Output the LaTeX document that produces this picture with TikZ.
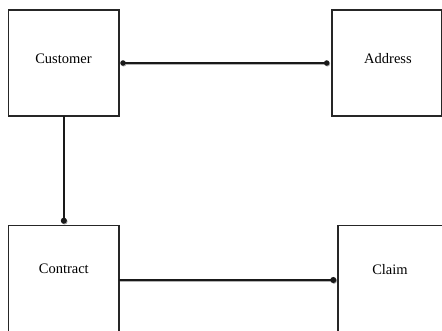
\documentclass[tikz,border=0pt]{standalone}
\usepackage{fontspec}
\setmainfont{Liberation Serif}
\usetikzlibrary{arrows.meta}
\begin{document}
\begin{tikzpicture}[x=1pt,y=-1pt,
  entity/.style={draw=black!85, line width=1.1pt, rectangle, outer sep=0pt, inner sep=0pt},
  caption/.style={font=\fontsize{14.5}{17}\selectfont, inner sep=0pt},
  link/.style={line width=1.4pt, draw=black!90,
    preaction={draw=black!30, line width=1.4pt,
      transform canvas={xshift=0.7pt,yshift=-0.8pt}}},
  bothdots/.style={arrows={Circle[length=5.4pt]-Circle[length=5.4pt]}},
  bigdot/.style={arrows={-Circle[length=6pt]}}]
\useasboundingbox (0,0) rectangle (442,330);
\clip (0,0) rectangle (442,330);

% entities
\node[entity, minimum width=110.3pt, minimum height=106pt] (customer) at (63.85,63) {};
\node[entity, minimum width=109.7pt, minimum height=106pt] (address) at (386.85,63) {};
\node[entity, minimum width=110.3pt, minimum height=108.6pt] (contract) at (63.85,280) {};
\node[entity, minimum width=110pt, minimum height=108.6pt] (claim) at (393,280) {};

% captions
\node[caption] (customerlabel) at (63.5,58.7) {Customer};
\node[caption] (addresslabel) at (388,59) {Address};
\node[caption] (contractlabel) at (63.8,269) {Contract};
\node[caption] (claimlabel) at (390,269.3) {Claim};

% relationships
\draw[link, bothdots, shorten <=1.3pt, shorten >=2.6pt] (customer.east) -- (address.west);
\draw[link, bigdot, shorten >=2pt] (customer.south) -- (contract.north);
\draw[link, bigdot, shorten >=1.7pt] (contract.east) -- (claim.west);
\end{tikzpicture}
\end{document}
